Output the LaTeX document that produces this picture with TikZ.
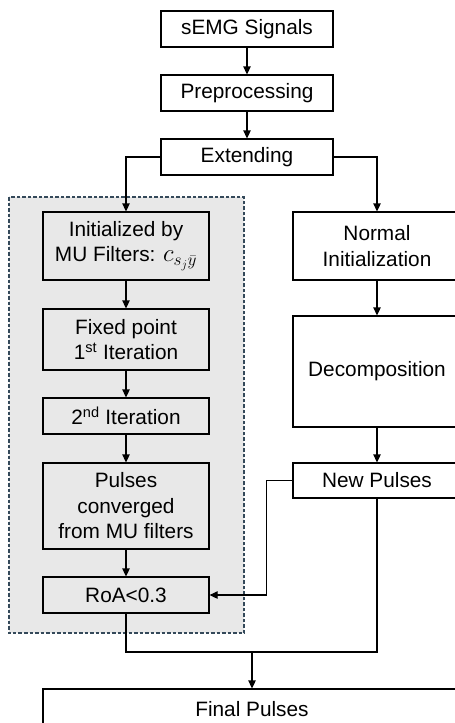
\documentclass[tikz,border=0pt]{standalone}
\usepackage{fontspec}
\setmainfont{Liberation Sans}
\usetikzlibrary{arrows.meta,calc}
\definecolor{regionfill}{HTML}{E8E8E8}
\definecolor{regionline}{HTML}{34495A}
\begin{document}
\begin{tikzpicture}[x=1pt,y=-1pt,
  box/.style={draw=black,line width=1.3pt,fill=white,inner sep=2pt,align=center,
    font=\fontsize{20.8}{25.5}\selectfont},
  gbox/.style={box,fill=regionfill},
  arr/.style={line width=1.3pt,-{Triangle[length=8pt,width=7.5pt]}},
  ln/.style={line width=1.3pt},
  region/.style={draw=regionline,line width=1.1pt,dash pattern=on 3.5pt off 2pt,fill=regionfill}]
\useasboundingbox (0,0) rectangle (455,723);
\clip (0,0) rectangle (455,723);
% dashed region
\draw[region] (9,197) rectangle (244,633);
% top column
\node[box,minimum width=172pt,minimum height=36pt] (semg) at (247,29) {sEMG Signals};
\node[box,minimum width=172pt,minimum height=36pt] (prep) at (247,93) {Preprocessing};
\node[box,minimum width=172pt,minimum height=36pt] (ext) at (247,157) {Extending};
% left column
\node[gbox,minimum width=166pt,minimum height=68pt] (init) at (126,246) {Initialized by\\MU Filters: {\fontsize{24}{25.5}\selectfont$c_{s_j\bar{y}}$}};
\node[gbox,minimum width=166pt,minimum height=61pt] (fixed) at (126,339.5) {Fixed point\\1\textsuperscript{st} Iteration};
\node[gbox,minimum width=166pt,minimum height=36pt] (iter) at (126,416) {2\textsuperscript{nd} Iteration};
\node[gbox,minimum width=166pt,minimum height=86pt] (puls) at (126,506) {Pulses\\converged\\from MU filters};
\node[gbox,minimum width=166pt,minimum height=36pt] (roa) at (126,595) {RoA<0.3};
% right column
\node[box,minimum width=168pt,minimum height=68pt] (norm) at (377,246) {Normal\\Initialization};
\node[box,minimum width=168pt,minimum height=111pt] (dec) at (377,371.5) {Decomposition};
\node[box,minimum width=168pt,minimum height=35pt] (newp) at (377,480.5) {New Pulses};
% final
\node[box,minimum width=418pt,minimum height=40pt] (final) at (252,709) {Final Pulses};
\coordinate (m) at (252,652);
% connectors
\draw[arr] (semg) -- (prep);
\draw[arr] (prep) -- (ext);
\draw[arr] (ext.west) -| (init.north);
\draw[arr] (ext.east) -| (norm.north);
\draw[arr] (init) -- (fixed);
\draw[arr] (fixed) -- (iter);
\draw[arr] (iter) -- (puls);
\draw[arr] (puls) -- (roa);
\draw[arr] (norm) -- (dec);
\draw[arr] (dec) -- (newp);
\draw[arr] (newp.west) -- ++(-26,0) |- (roa.east);
\draw[ln] (roa.south) |- (m) -| (newp.south);
\draw[arr] (m) -- (final.north);
\end{tikzpicture}
\end{document}
